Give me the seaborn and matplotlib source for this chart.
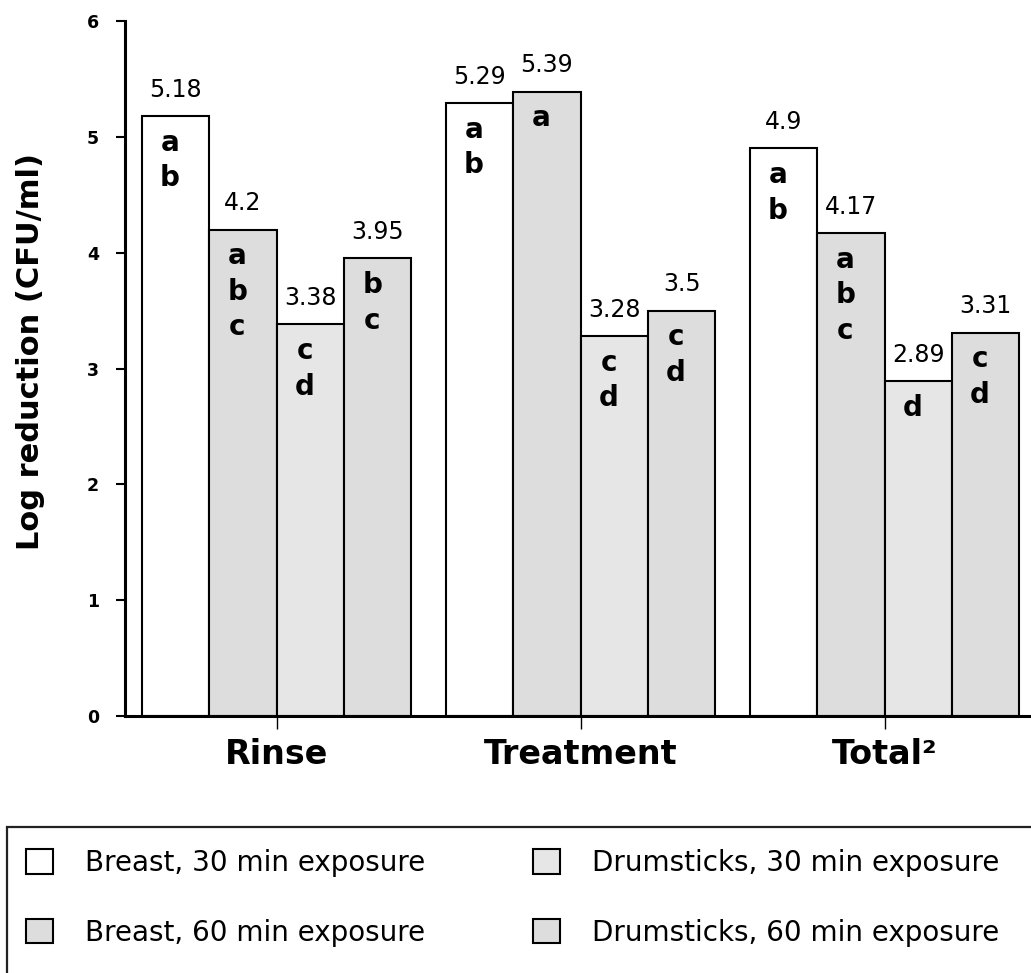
import matplotlib
matplotlib.use("Agg")
import matplotlib.pyplot as plt
from matplotlib.patches import Patch, Rectangle
import numpy as np
import pandas as pd
import seaborn as sns

# --- data -------------------------------------------------------------
measures = ["Rinse", "Treatment", "Total²"]
samples = [
    "Breast, 30 min exposure",
    "Breast, 60 min exposure",
    "Drumsticks, 30 min exposure",
    "Drumsticks, 60 min exposure",
]
breast_30 = [5.18, 5.29, 4.90]
breast_60 = [4.20, 5.39, 4.17]
drum_30 = [3.38, 3.28, 2.89]
drum_60 = [3.95, 3.50, 3.31]

# significance letters (per sample, per measure)
letters_breast_30 = [["a", "b"], ["a", "b"], ["a", "b"]]
letters_breast_60 = [["a", "b", "c"], ["a"], ["a", "b", "c"]]
letters_drum_30 = [["c", "d"], ["c", "d"], ["d"]]
letters_drum_60 = [["b", "c"], ["c", "d"], ["c", "d"]]

y_ticks = [0, 1, 2, 3, 4, 5, 6]
fill_colors = ["#ffffff", "#dddddd", "#e6e6e6", "#dddddd"]

series = [breast_30, breast_60, drum_30, drum_60]
letters = [letters_breast_30, letters_breast_60, letters_drum_30, letters_drum_60]

df = pd.DataFrame(
    [(m, s, v) for s, vals in zip(samples, series) for m, v in zip(measures, vals)],
    columns=["measure", "sample", "value"],
)

# --- figure -----------------------------------------------------------
sns.set_style("ticks")
plt.rcParams["font.family"] = ["DejaVu Sans"]
plt.rcParams.update({
    "text.color": "black",
    "axes.labelcolor": "black",
    "xtick.color": "black",
    "ytick.color": "black",
    "axes.edgecolor": "black",
})

W, H = 1031, 973
fig = plt.figure(figsize=(W / 100, H / 100), dpi=100)
ax = fig.add_axes([124.5 / W, (H - 716) / H, 912 / W, 695 / H])

palette = dict(zip(samples, fill_colors))
sns.barplot(
    data=df, x="measure", y="value", hue="sample",
    order=measures, hue_order=samples, palette=palette,
    saturation=1, width=0.888, edgecolor="black", linewidth=1.5,
    errorbar=None, legend=False, ax=ax,
)

ax.set_xlim(-0.5, 2.5)
ax.set_ylim(0, 6)
ax.set_yticks(y_ticks)
ax.set_yticklabels([str(t) for t in y_ticks], fontsize=12.5, fontweight="bold")
ax.set_xticks(range(len(measures)))
ax.set_xticklabels(measures, fontsize=24, fontweight="bold")
ax.tick_params(axis="y", length=6.5, width=1.5, pad=12, color="black",
               labelcolor="black")
ax.tick_params(axis="x", length=9, width=1.0, pad=7, color="black",
               labelcolor="black")
ax.set_xlabel("")
ax.set_ylabel("Log reduction (CFU/ml)", fontsize=22, fontweight="bold",
              color="black")
ax.yaxis.set_label_coords(-0.0872, 0.524)

for side in ["top", "right"]:
    ax.spines[side].set_visible(False)
for side in ["left", "bottom"]:
    ax.spines[side].set_linewidth(2.2)
    ax.spines[side].set_color("black")

# --- value labels and letter groups ----------------------------------
for container, vals, lets in zip(ax.containers, series, letters):
    for bar, v, group in zip(container.patches, vals, lets):
        cx = bar.get_x() + bar.get_width() / 2
        top = bar.get_height()
        ax.annotate(f"{v:g}", xy=(cx, top), xytext=(0, 14),
                    textcoords="offset points", ha="center", va="baseline",
                    fontsize=17, color="black")
        for i, ch in enumerate(group):
            ax.annotate(ch, xy=(cx, top), xytext=(-4, -25 - 25.5 * i),
                        textcoords="offset points", ha="center",
                        va="baseline", fontsize=20, fontweight="bold",
                        color="black")

# --- legend -----------------------------------------------------------
handles = [Patch(facecolor=c, edgecolor="black", linewidth=1.5)
           for c in fill_colors]
leg = fig.legend(handles, samples, ncol=2, loc="upper left",
                 bbox_to_anchor=(26 / W, (H - 849) / H), frameon=False,
                 fontsize=20, handlelength=0.97, handleheight=0.97,
                 handletextpad=1.15, columnspacing=3.9, labelspacing=1.5,
                 borderpad=0, borderaxespad=0)
for t in leg.get_texts():
    t.set_color("black")
fig.patches.append(Rectangle((7 / W, -0.1), 1.2, (H - 827) / H + 0.1,
                             transform=fig.transFigure, fill=False,
                             edgecolor="#222222", linewidth=1.6))

fig.savefig("out.png", dpi=100)
